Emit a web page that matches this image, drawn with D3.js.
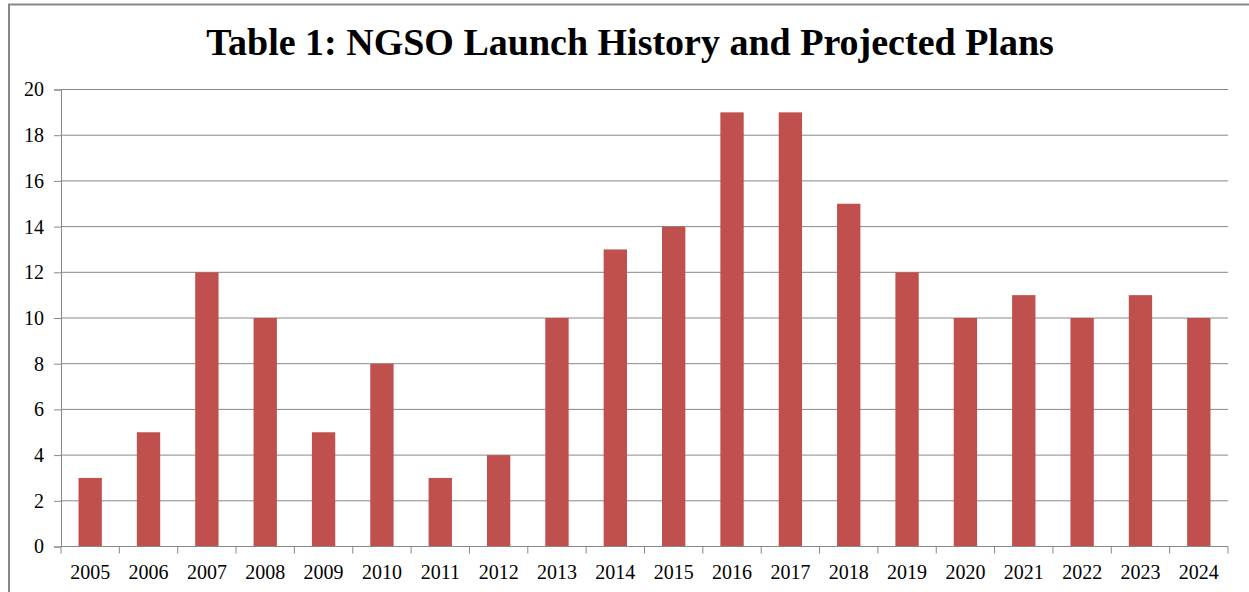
<!DOCTYPE html>
<html><head><meta charset="utf-8">
<script src="https://cdn.jsdelivr.net/npm/d3@7"></script>
<style>body{margin:0;background:#fff}svg{display:block}</style>
</head><body>
<script>
const years = ["2005","2006","2007","2008","2009","2010","2011","2012","2013","2014","2015","2016","2017","2018","2019","2020","2021","2022","2023","2024"];
const launches = [3,5,12,10,5,8,3,4,10,13,14,19,19,15,12,10,11,10,11,10];
const yTicks = [0,2,4,6,8,10,12,14,16,18,20];
const title = "Table 1: NGSO Launch History and Projected Plans";

const W = 1249, H = 592;
const m = {left: 61, right: 1228, top: 89.5, bottom: 546.5};
const svg = d3.select("body").append("svg").attr("width", W).attr("height", H);
svg.append("rect").attr("x", 0).attr("y", 0).attr("width", W).attr("height", H).attr("fill", "#fff");
// outer border
svg.append("path").attr("d", `M9,${H} V4.5 H${W}`).attr("fill","none").attr("stroke","#878787").attr("stroke-width",2);

const font = "'Liberation Serif','Times New Roman',serif";
svg.append("text").attr("x", 630).attr("y", 55).attr("text-anchor","middle")
  .attr("font-family", font).attr("font-weight","bold").attr("font-size", 38).attr("fill","#000").text(title);

const x = d3.scaleBand().domain(years).range([m.left, m.right]).paddingInner(0.6).paddingOuter(0.3);
const xb = d3.scaleBand().domain(years).range([m.left, m.right]);
const y = d3.scaleLinear().domain([0,20]).range([m.bottom, m.top]);

// gridlines
svg.append("g").selectAll("line").data(yTicks.filter(d=>d>0)).join("line")
  .attr("x1", m.left).attr("x2", m.right).attr("y1", d=>y(d)).attr("y2", d=>y(d))
  .attr("stroke","#888").attr("stroke-width",1);

// y axis
const yAxis = d3.axisLeft(y).tickValues(yTicks).tickSize(7).tickPadding(10).tickFormat(d3.format("d"));
const gy = svg.append("g").attr("transform", `translate(${m.left},0)`).call(yAxis);
gy.select(".domain").attr("stroke","#888");
gy.selectAll(".tick line").attr("stroke","#888");
gy.selectAll("text").attr("font-family", font).attr("font-size", 20).attr("fill","#000");

// bars
svg.append("g").selectAll("rect").data(launches).join("rect")
  .attr("x", (d,i)=>x(years[i])).attr("width", x.bandwidth())
  .attr("y", d=>y(d)).attr("height", d=>y(0)-y(d))
  .attr("fill","#C0504D");

// x axis
const gx = svg.append("g").attr("transform", `translate(0,${m.bottom})`);
gx.append("line").attr("x1", m.left).attr("x2", m.right).attr("stroke","#888");
const bounds = years.map(d=>xb(d)).concat([m.right]);
gx.selectAll("line.t").data(bounds).join("line").attr("class","t")
  .attr("x1", d=>d).attr("x2", d=>d).attr("y1",0).attr("y2",7).attr("stroke","#888");
gx.selectAll("text").data(years).join("text")
  .attr("x", d=>xb(d)+xb.bandwidth()/2).attr("y", 32).attr("text-anchor","middle")
  .attr("font-family", font).attr("font-size", 20).attr("fill","#000").text(d=>d);
</script>
</body></html>
